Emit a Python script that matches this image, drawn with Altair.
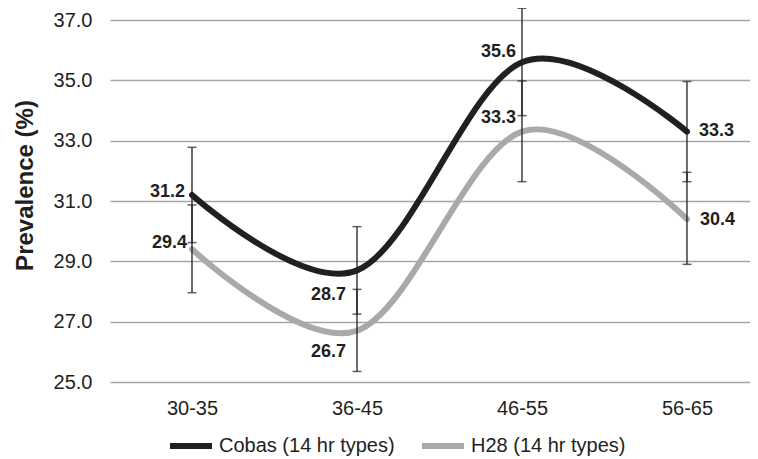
import json
import altair as alt
import pandas as pd

ages = ["30-35", "36-45", "46-55", "56-65"]
series_names = ["Cobas (14 hr types)", "H28 (14 hr types)"]
cobas = [31.2, 28.7, 35.6, 33.3]
cobas_lo = [29.62, 27.25, 33.83, 31.64]
cobas_hi = [32.78, 30.15, 37.39, 34.96]
h28 = [29.4, 26.7, 33.3, 30.4]
h28_lo = [27.96, 25.35, 31.64, 28.90]
h28_hi = [30.87, 28.07, 34.98, 31.95]
y_ticks = [25, 27, 29, 31, 33, 35, 37]

rows = []
for name, vals, los, his in [
    (series_names[0], cobas, cobas_lo, cobas_hi),
    (series_names[1], h28, h28_lo, h28_hi),
]:
    for i, a in enumerate(ages):
        rows.append(dict(series=name, age=a, idx=i, value=vals[i], lo=los[i],
                         hi=his[i], label=f"{vals[i]:.1f}"))
df = pd.DataFrame(rows)

DARK = "#231f20"
GREY = "#a7a9ac"
FONT = "Liberation Sans"

x_scale = alt.Scale(domain=[-0.497, 3.382], nice=False, zero=False)
y_scale = alt.Scale(domain=[25, 37], nice=False, zero=False)

x_axis = alt.Axis(values=[0, 1, 2, 3],
                  labelExpr=json.dumps(ages) + "[datum.value]",
                  grid=False, domain=False, ticks=False, labelFontSize=20,
                  labelPadding=16, labelColor=DARK, labelFlush=False,
                  labelOverlap=False, title=None)
y_axis = alt.Axis(values=y_ticks, format=".1f", grid=True, gridColor="#a6a6a6",
                  gridWidth=1.5, domain=False, ticks=False, labelFontSize=20,
                  labelPadding=18, labelColor=DARK, title="Prevalence (%)",
                  titleFontSize=24, titleFontWeight="bold", titleColor=DARK,
                  titleX=-85, titleY=165, titleAngle=270, titleAlign="center",
                  titleBaseline="middle")

X = alt.X("idx:Q", scale=x_scale, axis=x_axis, title=None)

base = alt.Chart(df)

lines = base.mark_line(interpolate="cardinal", strokeWidth=6, strokeCap="round").encode(
    x=X,
    y=alt.Y("value:Q", scale=y_scale, axis=y_axis, title="Prevalence (%)"),
    color=alt.Color("series:N",
                    scale=alt.Scale(domain=series_names, range=[DARK, GREY]),
                    legend=alt.Legend(orient="none", legendX=57, legendY=402,
                                      direction="horizontal", title=None,
                                      symbolType="stroke", symbolSize=1764,
                                      symbolStrokeWidth=6, labelFontSize=20,
                                      labelOffset=4, columnPadding=15, padding=0,
                                      labelLimit=400,
                                      labelColor=DARK, labelFont=FONT)),
    detail="series:N",
)

rules = base.mark_rule(color=DARK, strokeWidth=1.3).encode(
    x=X,
    y=alt.Y("lo:Q", scale=y_scale, axis=y_axis, title="Prevalence (%)"),
    y2="hi:Q",
)
caps_lo = base.mark_tick(orient="horizontal", size=9, thickness=1.5, color=DARK).encode(
    x=X, y=alt.Y("lo:Q", scale=y_scale, axis=y_axis, title="Prevalence (%)"))
caps_hi = base.mark_tick(orient="horizontal", size=9, thickness=1.5, color=DARK).encode(
    x=X, y=alt.Y("hi:Q", scale=y_scale, axis=y_axis, title="Prevalence (%)"))

# label placement per point: (align, dx, dy)
placement = {
    ("30-35", 0): ("right", -7, -3),
    ("30-35", 1): ("right", -5, -6),
    ("36-45", 0): ("right", -11, 25),
    ("36-45", 1): ("right", -11, 21),
    ("46-55", 0): ("right", -6, -10),
    ("46-55", 1): ("right", -6, -14),
    ("56-65", 0): ("left", 12, -1),
    ("56-65", 1): ("left", 13, 1),
}
label_layers = []
for (age, si), (align, dx, dy) in placement.items():
    label_layers.append(
        base.transform_filter(
            (alt.datum.age == age) & (alt.datum.series == series_names[si])
        ).mark_text(align=align, baseline="middle", dx=dx, dy=dy, fontSize=18,
                    fontWeight="bold", color=DARK, font=FONT).encode(
            x=X,
            y=alt.Y("value:Q", scale=y_scale, axis=y_axis, title="Prevalence (%)"),
            text="label:N",
        )
    )

chart = alt.layer(lines, rules, caps_lo, caps_hi, *label_layers).properties(
    width=640, height=362, autosize="none",
    padding={"left": 102, "top": 12, "right": 0, "bottom": 76},
).configure(font=FONT).configure_view(strokeOpacity=0)

chart.save("out.html", embed_options={"renderer": "svg", "actions": False})
